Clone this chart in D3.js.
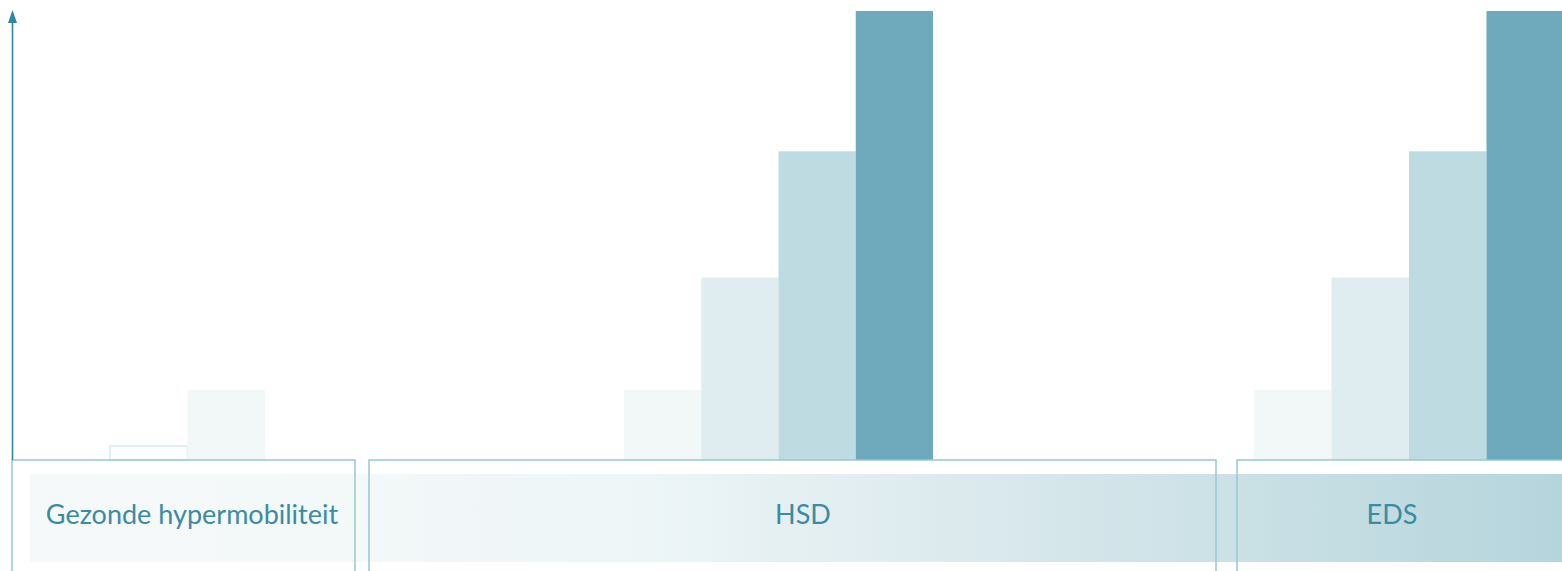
<!DOCTYPE html>
<html>
<head>
<meta charset="utf-8">
<script src="https://cdn.jsdelivr.net/npm/d3@7"></script>
<style>
  html, body { margin: 0; padding: 0; background: #ffffff; overflow: hidden; }
  svg { display: block; }
</style>
</head>
<body>
<svg id="chart" width="1562" height="571"></svg>
<script>
// Diagnoses along the spectrum
const groups = ["Gezonde hypermobiliteit", "HSD", "EDS"];
// Severity level of each bar within a group
const groupLevels = [
  [0, 1],
  [1, 2, 3, 4],
  [1, 2, 3, 4]
];
// Relative height for each severity level
const levelValues = [1, 5, 13, 22, 32];
const levelColors = ["#ffffff", "#f2f7f8", "#dfecf0", "#bddbe0", "#6eaabb"];

const W = 1562, H = 571;
const svg = d3.select("#chart");

// Layout of each group: bracket span, span of its bars, label centre
const layout = [
  { bracket: [12, 355], bars: [110, 265], label: 192 },
  { bracket: [369, 1216], bars: [624, 933], label: 803 },
  { bracket: [1237, 1600], bars: [1254, 1564], label: 1392 }
];

const baseY = 460, topY = 11;
const y = d3.scaleLinear()
  .domain([0, d3.max(levelValues)])
  .range([baseY, topY]);

// Gradient strip behind the group labels
const defs = svg.append("defs");
const grad = defs.append("linearGradient")
  .attr("id", "band")
  .attr("gradientUnits", "userSpaceOnUse")
  .attr("x1", 30).attr("x2", W).attr("y1", 0).attr("y2", 0);
[[0, "#f5f9fa"], [0.22, "#f3f8f9"], [0.4, "#edf5f7"], [0.58, "#deebef"], [0.78, "#cbe1e6"], [1, "#b5d5dc"]]
  .forEach(([o, c]) => grad.append("stop").attr("offset", o).attr("stop-color", c));

svg.append("rect")
  .attr("x", 30).attr("y", 474)
  .attr("width", W - 30).attr("height", 88)
  .attr("fill", "url(#band)");

// Bars
groups.forEach((g, gi) => {
  const lv = groupLevels[gi];
  const x = d3.scaleBand()
    .domain(lv)
    .range(layout[gi].bars)
    .paddingInner(0);
  svg.append("g")
    .selectAll("rect")
    .data(lv)
    .join("rect")
    .attr("x", d => x(d))
    .attr("y", d => y(levelValues[d]))
    .attr("width", x.bandwidth())
    .attr("height", d => y(0) - y(levelValues[d]))
    .attr("fill", d => levelColors[d])
    .attr("stroke", d => d === 0 ? "#d8eaee" : "none")
    .attr("stroke-width", 1.5);
});

// Group brackets
const bracketColor = "#98c7d3";
layout.forEach(l => {
  const [x0, x1] = l.bracket;
  svg.append("path")
    .attr("d", `M${x0},${H + 2} V${baseY} H${x1} V${H + 2}`)
    .attr("fill", "none")
    .attr("stroke", bracketColor)
    .attr("stroke-width", 1.5);
});

// Group labels
groups.forEach((g, gi) => {
  svg.append("text")
    .attr("x", layout[gi].label).attr("y", 517)
    .attr("text-anchor", "middle")
    .attr("dominant-baseline", "middle")
    .attr("font-family", "Lato, 'Open Sans', sans-serif")
    .attr("font-size", 27)
    .attr("fill", "#3a8ca2")
    .text(g);
});

// Vertical value axis with arrow head
const axisColor = "#2f87a0";
svg.append("line")
  .attr("x1", 12.5).attr("x2", 12.5)
  .attr("y1", baseY).attr("y2", 20)
  .attr("stroke", axisColor)
  .attr("stroke-width", 1.6);
svg.append("path")
  .attr("d", "M12.5,10 L8,23 L17,23 Z")
  .attr("fill", axisColor);
</script>
</body>
</html>
